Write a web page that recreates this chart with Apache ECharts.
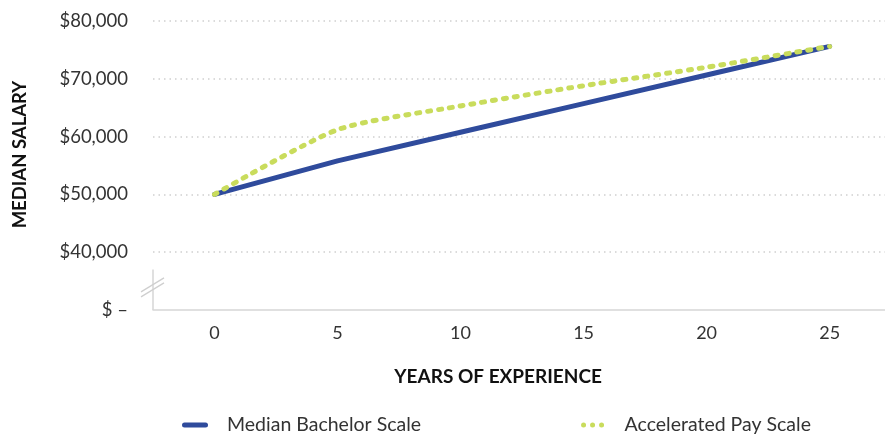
<!DOCTYPE html>
<html>
<head>
<meta charset="utf-8">
<script src="https://cdn.jsdelivr.net/npm/echarts@6/dist/echarts.min.js"></script>
<style>
html,body{margin:0;padding:0;background:#fff;}
#chart{width:885px;height:435px;}
</style>
</head>
<body>
<div id="chart"></div>
<script>
const years = [0, 5, 10, 15, 20, 25];
const medianBachelor = [50000, 55800, 60750, 65700, 70650, 75600];
const acceleratedPay = [50000, 61200, 65300, 68800, 72000, 75600];
const yMin = 30000, yMax = 80000, yStep = 10000;
const xMin = -2.5, xMax = 27.25;
const seriesNames = ['Median Bachelor Scale', 'Accelerated Pay Scale'];
const axisNames = { x: 'YEARS OF EXPERIENCE', y: 'MEDIAN SALARY' };

const FONT = 'Lato, "Open Sans", sans-serif';
const BLUE = '#2f4b9c';
const GREEN = '#c9dc5c';

const ICON_BAR = 'path://M2.5,0 L23.5,0 A2.5,2.5 0 0,1 23.5,5 L2.5,5 A2.5,2.5 0 0,1 2.5,0 Z';
const ICON_DOTS = 'path://M0,2.5 A2.5,2.5 0 1,0 5,2.5 A2.5,2.5 0 1,0 0,2.5 Z M9,2.5 A2.5,2.5 0 1,0 14,2.5 A2.5,2.5 0 1,0 9,2.5 Z M18,2.5 A2.5,2.5 0 1,0 23,2.5 A2.5,2.5 0 1,0 18,2.5 Z';

const pairs = vals => years.map((y, i) => [y, vals[i]]);

const chart = echarts.init(document.getElementById('chart'));
const option = {
  animation: false,
  grid: { left: 153, right: 0, top: 21, bottom: 125, containLabel: false },
  legend: {
    left: 182, bottom: 0, padding: 0,
    itemGap: 160, itemWidth: 26, itemHeight: 5,
    textStyle: { fontFamily: FONT, fontSize: 19.5, color: '#333', padding: [0, 0, 0, 14] },
    data: [
      { name: seriesNames[0], icon: ICON_BAR, itemStyle: { color: BLUE } },
      { name: seriesNames[1], icon: ICON_DOTS, itemStyle: { color: GREEN } }
    ]
  },
  xAxis: {
    type: 'value',
    min: xMin, max: xMax,
    axisLine: { show: true, onZero: false, lineStyle: { color: '#d6d6d6', width: 1.5 } },
    axisTick: { show: false },
    axisLabel: { fontFamily: FONT, fontSize: 18, color: '#333', margin: 14, customValues: years },
    splitLine: { show: false }
  },
  yAxis: {
    type: 'value',
    min: yMin, max: yMax, interval: yStep,
    axisLine: { show: false },
    axisTick: { show: false },
    axisLabel: {
      fontFamily: FONT, fontSize: 18.5, color: '#333', margin: 25,
      formatter: v => v === yMin ? '$ \u2013' : '$' + v.toLocaleString('en-US')
    },
    splitLine: {
      show: true,
      lineStyle: { color: '#cfcfcf', type: [1.5, 4], width: 1.5 },
      showMinLine: false
    }
  },
  series: [
    {
      name: seriesNames[0], type: 'line', data: pairs(medianBachelor),
      symbol: 'none', z: 2,
      lineStyle: { color: BLUE, width: 5, cap: 'round' },
      itemStyle: { color: BLUE }
    },
    {
      name: seriesNames[1], type: 'line', data: pairs(acceleratedPay),
      symbol: 'none', smooth: 0.22, z: 3,
      lineStyle: { color: GREEN, width: 5, type: [3, 8], cap: 'round' },
      itemStyle: { color: GREEN }
    }
  ]
};
chart.setOption(option);

// decorations positioned through the axes
const gridLeft = chart.convertToPixel({ xAxisIndex: 0 }, xMin);
const yBottom = chart.convertToPixel({ yAxisIndex: 0 }, yMin);
const yBreakTop = chart.convertToPixel({ yAxisIndex: 0 }, 37000);
const yBreakMid = chart.convertToPixel({ yAxisIndex: 0 }, 34000);
const xFirst = chart.convertToPixel({ xAxisIndex: 0 }, years[0]);
const xLast = chart.convertToPixel({ xAxisIndex: 0 }, years[years.length - 1]);
const gridCenterY = (chart.convertToPixel({ yAxisIndex: 0 }, yMax) + yBottom) / 2;

chart.setOption({
  graphic: [
    { type: 'line', shape: { x1: gridLeft, y1: yBottom, x2: gridLeft, y2: yBreakTop },
      style: { stroke: '#d6d6d6', lineWidth: 1.5 } },
    { type: 'line', shape: { x1: gridLeft - 12, y1: yBreakMid + 5, x2: gridLeft + 11, y2: yBreakMid - 9 },
      style: { stroke: '#cfcfcf', lineWidth: 1.3 } },
    { type: 'line', shape: { x1: gridLeft - 12, y1: yBreakMid + 10, x2: gridLeft + 11, y2: yBreakMid - 4 },
      style: { stroke: '#cfcfcf', lineWidth: 1.3 } },
    { type: 'text', x: 20, y: gridCenterY - 11, rotation: Math.PI / 2,
      style: { text: axisNames.y, font: 'bold 18.5px ' + FONT, fill: '#111', align: 'center', verticalAlign: 'middle' } },
    { type: 'text', x: (xFirst + xLast) / 2 - 24, y: 377,
      style: { text: axisNames.x, font: 'bold 19px ' + FONT, fill: '#111', align: 'center', verticalAlign: 'middle' } }
  ]
});
</script>
</body>
</html>
